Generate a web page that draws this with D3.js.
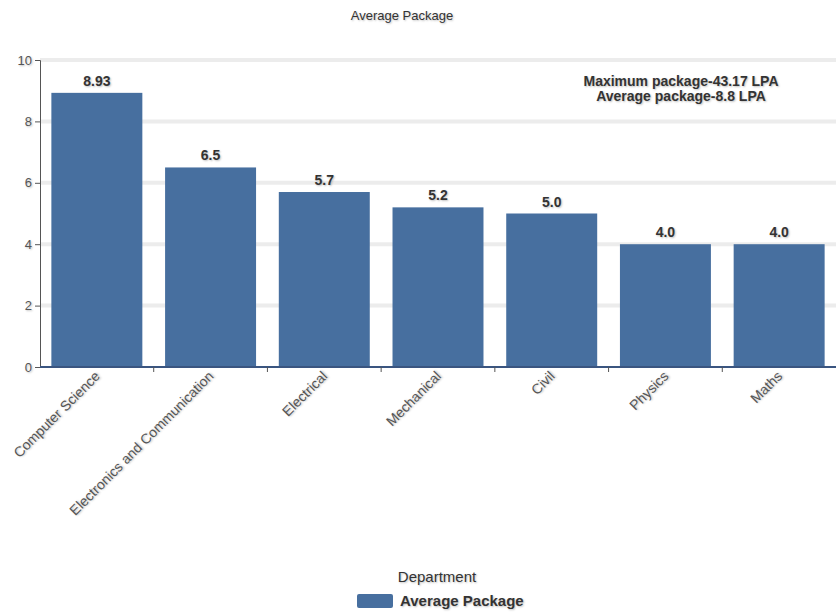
<!DOCTYPE html>
<html>
<head>
<meta charset="utf-8">
<script src="https://cdn.jsdelivr.net/npm/d3@7"></script>
<style>
  body { margin: 0; background: #fff; font-family: "Liberation Sans", Arial, sans-serif; }
  text { fill: #444; }
  .shadow { text-shadow: 1px 1px 2px rgba(0,0,0,0.25); }
</style>
</head>
<body>
<div id="chart"></div>
<script>
// data
const departments = ["Computer Science", "Electronics and Communication", "Electrical",
  "Mechanical", "Civil", "Physics", "Maths"];
const avgPackage = [8.93, 6.5, 5.7, 5.2, 5.0, 4.0, 4.0];
const valueLabels = ["8.93", "6.5", "5.7", "5.2", "5.0", "4.0", "4.0"];
const yTicks = [0, 2, 4, 6, 8, 10];
const notes = ["Maximum package-43.17 LPA", "Average package-8.8 LPA"];

const W = 837, H = 614;
const margin = {top: 60, right: 1, bottom: 247, left: 40};
const width = W - margin.left - margin.right,
      height = H - margin.top - margin.bottom;
const barColor = "#476f9f";

const svg = d3.select("#chart")
  .append("svg")
    .attr("width", W)
    .attr("height", H);

// title
svg.append("text")
  .attr("class", "shadow")
  .attr("x", 402).attr("y", 20)
  .attr("text-anchor", "middle")
  .style("font-size", "13px")
  .style("fill", "#333")
  .text("Average Package");

const g = svg.append("g")
  .attr("transform", `translate(${margin.left}, ${margin.top})`);

const x = d3.scaleBand()
  .domain(departments)
  .range([0, width])
  .paddingInner(0.2)
  .paddingOuter(0.1);

const y = d3.scaleLinear()
  .domain([0, 10])
  .range([height, 0]);

// gridlines
g.append("g")
  .selectAll("line")
  .data(yTicks.filter(d => d > 0))
  .enter()
  .append("line")
    .attr("x1", 0).attr("x2", width)
    .attr("y1", d => y(d)).attr("y2", d => y(d))
    .attr("stroke", "#ececec")
    .attr("stroke-width", 4);

// bars
g.append("g")
  .selectAll("rect")
  .data(avgPackage)
  .enter()
  .append("rect")
    .attr("x", (d, i) => x(departments[i]))
    .attr("y", d => y(d))
    .attr("width", x.bandwidth())
    .attr("height", d => height - y(d))
    .attr("fill", barColor);

// value labels
g.append("g")
  .selectAll("text")
  .data(avgPackage)
  .enter()
  .append("text")
    .attr("class", "shadow")
    .attr("x", (d, i) => x(departments[i]) + x.bandwidth() / 2)
    .attr("y", d => y(d) - 7)
    .attr("text-anchor", "middle")
    .style("font-size", "14px")
    .style("font-weight", "bold")
    .style("fill", "#333")
    .text((d, i) => valueLabels[i]);

// y axis
const yAxis = g.append("g")
  .call(d3.axisLeft(y).tickValues(yTicks).tickSize(5).tickFormat(d3.format("d")));
yAxis.selectAll("text").attr("class", "shadow").style("font-size", "13px").style("fill", "#555");
yAxis.selectAll("line, path").attr("stroke", "#555");

// x axis: ticks on category boundaries
const xAxis = g.append("g")
  .attr("transform", `translate(0, ${height})`);
xAxis.append("line")
  .attr("x1", 0).attr("x2", width)
  .attr("stroke", "#3a5580").attr("stroke-width", 2);
xAxis.selectAll(".bt")
  .data(departments.slice(1))
  .enter()
  .append("line")
    .attr("class", "bt")
    .attr("x1", d => x(d) - x.step() * x.paddingInner() / 2)
    .attr("x2", d => x(d) - x.step() * x.paddingInner() / 2)
    .attr("y1", 0).attr("y2", 5)
    .attr("stroke", "#555");
xAxis.selectAll(".lbl")
  .data(departments)
  .enter()
  .append("text")
    .attr("class", "lbl shadow")
    .attr("text-anchor", "end")
    .attr("transform", d => `translate(${x(d) + x.bandwidth() / 2 + 4}, 10) rotate(-45)`)
    .style("font-size", "14px")
    .style("fill", "#555")
    .text(d => d);

// annotation
svg.append("g")
  .selectAll("text")
  .data(notes)
  .enter()
  .append("text")
    .attr("class", "shadow")
    .attr("x", 681)
    .attr("y", (d, i) => 86 + i * 15)
    .attr("text-anchor", "middle")
    .style("font-size", "14px")
    .style("font-weight", "bold")
    .style("fill", "#333")
    .text(d => d);

// legend
svg.append("text")
  .attr("class", "shadow")
  .attr("x", 437).attr("y", 582)
  .attr("text-anchor", "middle")
  .style("font-size", "15px")
  .style("fill", "#333")
  .text("Department");
svg.append("rect")
  .attr("x", 357).attr("y", 594)
  .attr("width", 36).attr("height", 14)
  .attr("rx", 2)
  .attr("fill", barColor);
svg.append("text")
  .attr("class", "shadow")
  .attr("x", 400).attr("y", 606)
  .style("font-size", "15px")
  .style("font-weight", "bold")
  .style("fill", "#333")
  .text("Average Package");
</script>
</body>
</html>
